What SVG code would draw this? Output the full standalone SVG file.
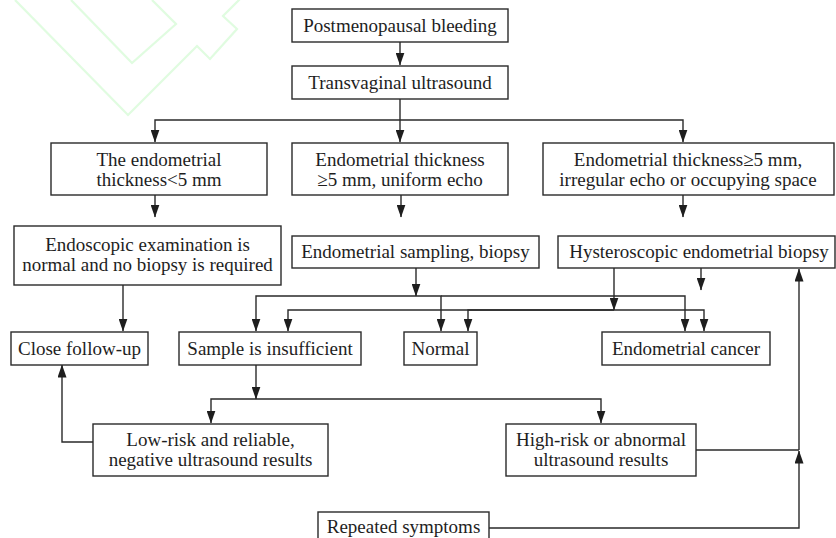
<svg xmlns="http://www.w3.org/2000/svg" width="836" height="538" viewBox="0 0 836 538">
<style>
.box{fill:#fff;stroke:#2a2a2a;stroke-width:1.4}
.t{font-family:"Liberation Serif","Times New Roman",serif;font-size:19px;fill:#1e1e1e;text-anchor:middle}
.c{fill:none;stroke:#2a2a2a;stroke-width:1.4}
.a{marker-end:url(#ah)}
.wm{fill:none;stroke:#e0fce0;stroke-width:2.2}
</style>
<defs>
<marker id="ah" markerUnits="userSpaceOnUse" markerWidth="13" markerHeight="9" viewBox="0 0 13 9" refX="12.5" refY="4.5" orient="auto">
<path d="M0,0 L13,4.5 L0,9 Z" fill="#1e1e1e"/>
</marker>
</defs>
<g id="watermark">
<polyline class="wm" points="15,0 128,115 197,46 210,59 237,29 223,16 240,-1"/>
<polyline class="wm" points="71,0 132,63 176,24 152,0"/>
</g>
<g id="connectors">
<path class="c a" d="M400,42 V65"/>
<path class="c a" d="M400,99 V142"/>
<path class="c a" d="M400,120 H155 V142"/>
<path class="c a" d="M400,120 H683 V142"/>
<path class="c a" d="M155,195 V217"/>
<path class="c a" d="M401,195 V217"/>
<path class="c a" d="M683,195 V217"/>
<path class="c a" d="M123,285 V331"/>
<path class="c a" d="M416,268 V296"/>
<path class="c a" d="M416,296 H256 V331"/>
<path class="c a" d="M416,296 H441 V331"/>
<path class="c a" d="M441,296 H685 V331"/>
<path class="c a" d="M614,268 V310"/>
<path class="c a" d="M614,310 H288 V331"/>
<path class="c a" d="M614,310 H468 V331"/>
<path class="c a" d="M614,310 H704 V331"/>
<path class="c a" d="M701,268 V290"/>
<path class="c a" d="M256,365 V399"/>
<path class="c a" d="M256,399 H211 V423"/>
<path class="c a" d="M256,399 H601 V423"/>
<path class="c a" d="M93,442 H62 V365"/>
<path class="c" d="M696,450 H799"/>
<path class="c a" d="M799,450 V269"/>
<path class="c a" d="M489,528 H799 V451"/>
</g>
<g id="n1"><rect class="box" x="292" y="9" width="216" height="33"/><text class="t" x="400" y="32">Postmenopausal bleeding</text></g>
<g id="n2"><rect class="box" x="292" y="66" width="216" height="33"/><text class="t" x="400" y="89">Transvaginal ultrasound</text></g>
<g id="n3"><rect class="box" x="51" y="143" width="216" height="52"/><text class="t" x="159" y="166">The endometrial</text><text class="t" x="159" y="186">thickness&lt;5 mm</text></g>
<g id="n4"><rect class="box" x="292" y="143" width="216" height="52"/><text class="t" x="400" y="166">Endometrial thickness</text><text class="t" x="400" y="186">≥5 mm, uniform echo</text></g>
<g id="n5"><rect class="box" x="543" y="143" width="291" height="52"/><text class="t" x="688" y="166">Endometrial thickness≥5 mm,</text><text class="t" x="688" y="186">irregular echo or occupying space</text></g>
<g id="n6"><rect class="box" x="14" y="226" width="267" height="59"/><text class="t" x="147.5" y="251">Endoscopic examination is</text><text class="t" x="147.5" y="271">normal and no biopsy is required</text></g>
<g id="n7"><rect class="box" x="292" y="236" width="247" height="32"/><text class="t" x="415.5" y="258">Endometrial sampling, biopsy</text></g>
<g id="n8"><rect class="box" x="558" y="236" width="277" height="32"/><text class="t" x="699" y="258">Hysteroscopic endometrial biopsy</text></g>
<g id="n9"><rect class="box" x="11" y="332" width="137" height="33"/><text class="t" x="79.5" y="355">Close follow-up</text></g>
<g id="n10"><rect class="box" x="179" y="332" width="182" height="33"/><text class="t" x="270" y="355">Sample is insufficient</text></g>
<g id="n11"><rect class="box" x="404" y="332" width="73" height="33"/><text class="t" x="440.5" y="355">Normal</text></g>
<g id="n12"><rect class="box" x="602" y="332" width="168" height="33"/><text class="t" x="686" y="355">Endometrial cancer</text></g>
<g id="n13"><rect class="box" x="93" y="424" width="235" height="52"/><text class="t" x="210.5" y="446">Low-risk and reliable,</text><text class="t" x="210.5" y="466">negative ultrasound results</text></g>
<g id="n14"><rect class="box" x="506" y="424" width="190" height="52"/><text class="t" x="601" y="446">High-risk or abnormal</text><text class="t" x="601" y="466">ultrasound results</text></g>
<g id="n15"><rect class="box" x="318" y="512" width="171" height="34"/><text class="t" x="403.5" y="533">Repeated symptoms</text></g>
</svg>
